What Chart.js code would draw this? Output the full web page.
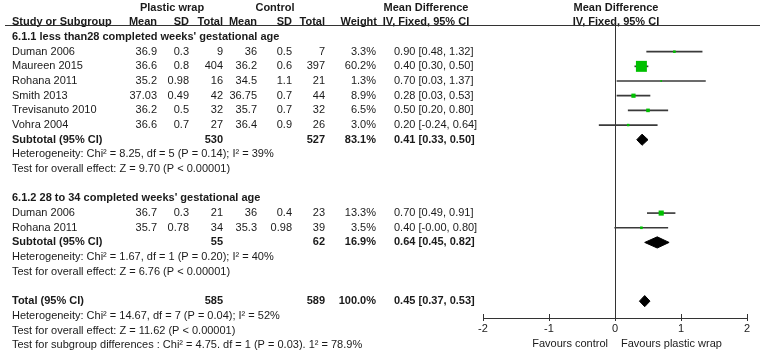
<!DOCTYPE html>
<html>
<head>
<meta charset="utf-8">
<title>Plastic wrap vs control - forest plot</title>
<script src="https://cdn.jsdelivr.net/npm/chart.js@4.4.1/dist/chart.umd.min.js"></script>
<style>
  html, body { margin: 0; padding: 0; background: #fff; }
  #wrap { width: 760px; height: 360px; }
</style>
</head>
<body>
<div id="wrap"><canvas id="forest" width="760" height="360"></canvas></div>
<script>
// ---- data ----
const groupTitles = ["6.1.1 less than28 completed weeks' gestational age", "6.1.2 28 to 34 completed weeks' gestational age"];
const studyNames = ["Duman 2006", "Maureen 2015", "Rohana 2011", "Smith 2013", "Trevisanuto 2010", "Vohra 2004", "Duman 2006", "Rohana 2011"];
const studyGroup = [0, 0, 0, 0, 0, 0, 1, 1];
const wrapMean = [36.9, 36.6, 35.2, 37.03, 36.2, 36.6, 36.7, 35.7];
const wrapSD = [0.3, 0.8, 0.98, 0.49, 0.5, 0.7, 0.3, 0.78];
const wrapN = [9, 404, 16, 42, 32, 27, 21, 34];
const ctrlMean = [36, 36.2, 34.5, 36.75, 35.7, 36.4, 36, 35.3];
const ctrlSD = [0.5, 0.6, 1.1, 0.7, 0.7, 0.9, 0.4, 0.98];
const ctrlN = [7, 397, 21, 44, 32, 26, 23, 39];
const weight = [3.3, 60.2, 1.3, 8.9, 6.5, 3.0, 13.3, 3.5];
const meanDiff = [0.90, 0.40, 0.70, 0.28, 0.50, 0.20, 0.70, 0.40];
const ciLow = [0.48, 0.30, 0.03, 0.03, 0.20, -0.24, 0.49, -0.004];
const ciHigh = [1.32, 0.50, 1.37, 0.53, 0.80, 0.64, 0.91, 0.80];

const subWrapN = [530, 55];
const subCtrlN = [527, 62];
const subWeight = [83.1, 16.9];
const subMD = [0.41, 0.64];
const subLow = [0.33, 0.45];
const subHigh = [0.50, 0.82];
const subHet = ["Heterogeneity: Chi² = 8.25, df = 5 (P = 0.14); I² = 39%", "Heterogeneity: Chi² = 1.67, df = 1 (P = 0.20); I² = 40%"];
const subEffect = ["Test for overall effect: Z = 9.70 (P < 0.00001)", "Test for overall effect: Z = 6.76 (P < 0.00001)"];

const totalWrapN = 585;
const totalCtrlN = 589;
const totalWeight = 100.0;
const totalMD = 0.45;
const totalLow = 0.37;
const totalHigh = 0.53;
const totalNotes = [
  "Heterogeneity: Chi² = 14.67, df = 7 (P = 0.04); I² = 52%",
  "Test for overall effect: Z = 11.62 (P < 0.00001)",
  "Test for subgroup differences : Chi² = 4.75. df = 1 (P = 0.03). 1² = 78.9%"
];

const xTicks = [-2, -1, 0, 1, 2];
const favourLabels = ["Favours control", "Favours plastic wrap"];

// ---- styling ----
const FONT = "'Liberation Sans', Arial, sans-serif";
const TEXT = '#1a1a1a';
const LINE = '#333333';
const GREEN = '#00c000';
const DIAMOND_HALF = 0.38;   // half height of summary diamonds, in rows

// ---- row layout built from the groups ----
const rows = [];
const studyRow = [];
const summaryRows = [];
let r = 0;
groupTitles.forEach((title, g) => {
  rows.push({ kind: 'group', r: r++, text: title });
  studyNames.forEach((n, i) => {
    if (studyGroup[i] === g) { studyRow[i] = r; rows.push({ kind: 'study', r: r++, i }); }
  });
  summaryRows.push(r);
  rows.push({ kind: 'sub', r: r++, g });
  rows.push({ kind: 'note', r: r++, text: subHet[g] });
  rows.push({ kind: 'note', r: r++, text: subEffect[g] });
  r++;
});
summaryRows.push(r);
rows.push({ kind: 'total', r: r++ });
totalNotes.forEach(t => rows.push({ kind: 'note', r: r++, text: t }));

function diamond(lo, mid, hi, row) {
  return [
    { x: lo, y: row }, { x: mid, y: row - DIAMOND_HALF }, { x: hi, y: row },
    { x: mid, y: row + DIAMOND_HALF }, { x: lo, y: row }
  ];
}

const summaries = [
  [subLow[0], subMD[0], subHigh[0]],
  [subLow[1], subMD[1], subHigh[1]],
  [totalLow, totalMD, totalHigh]
];

const datasets = [
  {
    type: 'bar',
    indexAxis: 'y',
    data: studyNames.map((n, i) => ({ x: [ciLow[i], ciHigh[i]], y: studyRow[i] })),
    backgroundColor: '#3a3a3a',
    barThickness: 1,
    borderWidth: 0,
    grouped: false,
    order: 3
  },
  {
    type: 'scatter',
    data: studyNames.map((n, i) => ({ x: meanDiff[i], y: studyRow[i] })),
    pointStyle: 'rect',
    pointRadius: weight.map(w => Math.max(Math.sqrt(w), 1.2)),
    pointHoverRadius: weight.map(w => Math.max(Math.sqrt(w), 1.2)),
    backgroundColor: GREEN,
    borderWidth: 0,
    order: 1
  }
];
summaries.forEach((s, k) => {
  datasets.push({
    type: 'line',
    data: diamond(s[0], s[1], s[2], summaryRows[k]),
    borderColor: '#000',
    backgroundColor: '#000',
    borderWidth: 1,
    pointRadius: 0,
    tension: 0,
    fill: 'shape',
    order: 2
  });
});

// ---- table text, header rule and the favours labels ----
const col = {
  name: 12, wMean: 157, wSD: 189, wN: 223, cMean: 257, cSD: 292, cN: 325,
  weight: 376, ci: 394, wrapHead: 172, ctrlHead: 275, mdHead: 426, plotHead: 616
};

const tablePlugin = {
  id: 'forestTable',
  afterDraw(chart) {
    const ctx = chart.ctx;
    const ys = chart.scales.y;
    const xs = chart.scales.x;
    const area = chart.chartArea;
    const Y = v => ys.getPixelForValue(v);
    const fmtCI = (m, lo, hi) => m.toFixed(2) + ' [' + lo.toFixed(2) + ', ' + hi.toFixed(2) + ']';

    ctx.save();
    ctx.fillStyle = TEXT;
    ctx.textBaseline = 'middle';
    function txt(s, x, y, align, bold) {
      ctx.font = (bold ? 'bold ' : '') + '11px ' + FONT;
      ctx.textAlign = align;
      ctx.fillText(String(s), x, y);
    }

    // headers
    const h1 = Y(-2), h2 = Y(-1);
    txt('Plastic wrap', col.wrapHead, h1, 'center', true);
    txt('Control', col.ctrlHead, h1, 'center', true);
    txt('Mean Difference', col.mdHead, h1, 'center', true);
    txt('Mean Difference', col.plotHead, h1, 'center', true);
    txt('Study or Subgroup', col.name, h2, 'left', true);
    txt('Mean', col.wMean, h2, 'right', true);
    txt('SD', col.wSD, h2, 'right', true);
    txt('Total', col.wN, h2, 'right', true);
    txt('Mean', col.cMean, h2, 'right', true);
    txt('SD', col.cSD, h2, 'right', true);
    txt('Total', col.cN, h2, 'right', true);
    txt('Weight', col.weight + 1, h2, 'right', true);
    txt('IV, Fixed, 95% CI', col.mdHead, h2, 'center', true);
    txt('IV, Fixed, 95% CI', col.plotHead, h2, 'center', true);

    ctx.fillStyle = LINE;
    ctx.fillRect(5, Math.round(area.top) - 1, 755, 1);
    ctx.fillStyle = TEXT;

    rows.forEach(row => {
      const y = Y(row.r);
      if (row.kind === 'group') {
        txt(row.text, col.name, y, 'left', true);
      } else if (row.kind === 'note') {
        txt(row.text, col.name, y, 'left', false);
      } else if (row.kind === 'study') {
        const i = row.i;
        txt(studyNames[i], col.name, y, 'left', false);
        txt(wrapMean[i], col.wMean, y, 'right', false);
        txt(wrapSD[i], col.wSD, y, 'right', false);
        txt(wrapN[i], col.wN, y, 'right', false);
        txt(ctrlMean[i], col.cMean, y, 'right', false);
        txt(ctrlSD[i], col.cSD, y, 'right', false);
        txt(ctrlN[i], col.cN, y, 'right', false);
        txt(weight[i].toFixed(1) + '%', col.weight, y, 'right', false);
        txt(fmtCI(meanDiff[i], ciLow[i], ciHigh[i]), col.ci, y, 'left', false);
      } else if (row.kind === 'sub') {
        const g = row.g;
        txt('Subtotal (95% CI)', col.name, y, 'left', true);
        txt(subWrapN[g], col.wN, y, 'right', true);
        txt(subCtrlN[g], col.cN, y, 'right', true);
        txt(subWeight[g].toFixed(1) + '%', col.weight, y, 'right', true);
        txt(fmtCI(subMD[g], subLow[g], subHigh[g]), col.ci, y, 'left', true);
      } else if (row.kind === 'total') {
        txt('Total (95% CI)', col.name, y, 'left', true);
        txt(totalWrapN, col.wN, y, 'right', true);
        txt(totalCtrlN, col.cN, y, 'right', true);
        txt(totalWeight.toFixed(1) + '%', col.weight, y, 'right', true);
        txt(fmtCI(totalMD, totalLow, totalHigh), col.ci, y, 'left', true);
      }
    });

    // tick marks cross the axis line
    ctx.strokeStyle = LINE;
    ctx.lineWidth = 1;
    ctx.beginPath();
    xs.ticks.forEach(t => {
      const px = Math.round(xs.getPixelForValue(t.value)) + 0.5;
      ctx.moveTo(px, area.bottom - 4);
      ctx.lineTo(px, area.bottom);
    });
    ctx.stroke();

    const x0 = xs.getPixelForValue(0);
    const fy = area.bottom + 26;
    txt(favourLabels[0], x0 - 7, fy, 'right', false);
    txt(favourLabels[1], x0 + 6, fy, 'left', false);
    ctx.restore();
  }
};

new Chart(document.getElementById('forest'), {
  type: 'scatter',
  data: { datasets },
  options: {
    responsive: false,
    animation: false,
    devicePixelRatio: 1,
    layout: { padding: { left: 483, right: 13, top: 26, bottom: 0 } },
    plugins: { legend: { display: false }, tooltip: { enabled: false } },
    scales: {
      x: {
        type: 'linear',
        min: -2,
        max: 2,
        offset: false,
        afterBuildTicks: s => { s.ticks = xTicks.map(v => ({ value: v })); },
        afterFit: s => { s.height = 42; },
        grid: {
          offset: false,
          color: c => (c.tick && c.tick.value === 0) ? LINE : 'rgba(0,0,0,0)',
          tickColor: LINE,
          tickLength: 3,
          lineWidth: 1
        },
        border: { display: true, color: LINE, width: 1 },
        ticks: {
          padding: 1,
          color: TEXT,
          font: { family: FONT, size: 11 },
          maxRotation: 0,
          autoSkip: false
        }
      },
      y: {
        type: 'linear',
        reverse: true,
        min: -0.75,
        max: 19.15,
        offset: false,
        display: false,
        grid: { offset: false }
      }
    }
  },
  plugins: [tablePlugin]
});
</script>
</body>
</html>
